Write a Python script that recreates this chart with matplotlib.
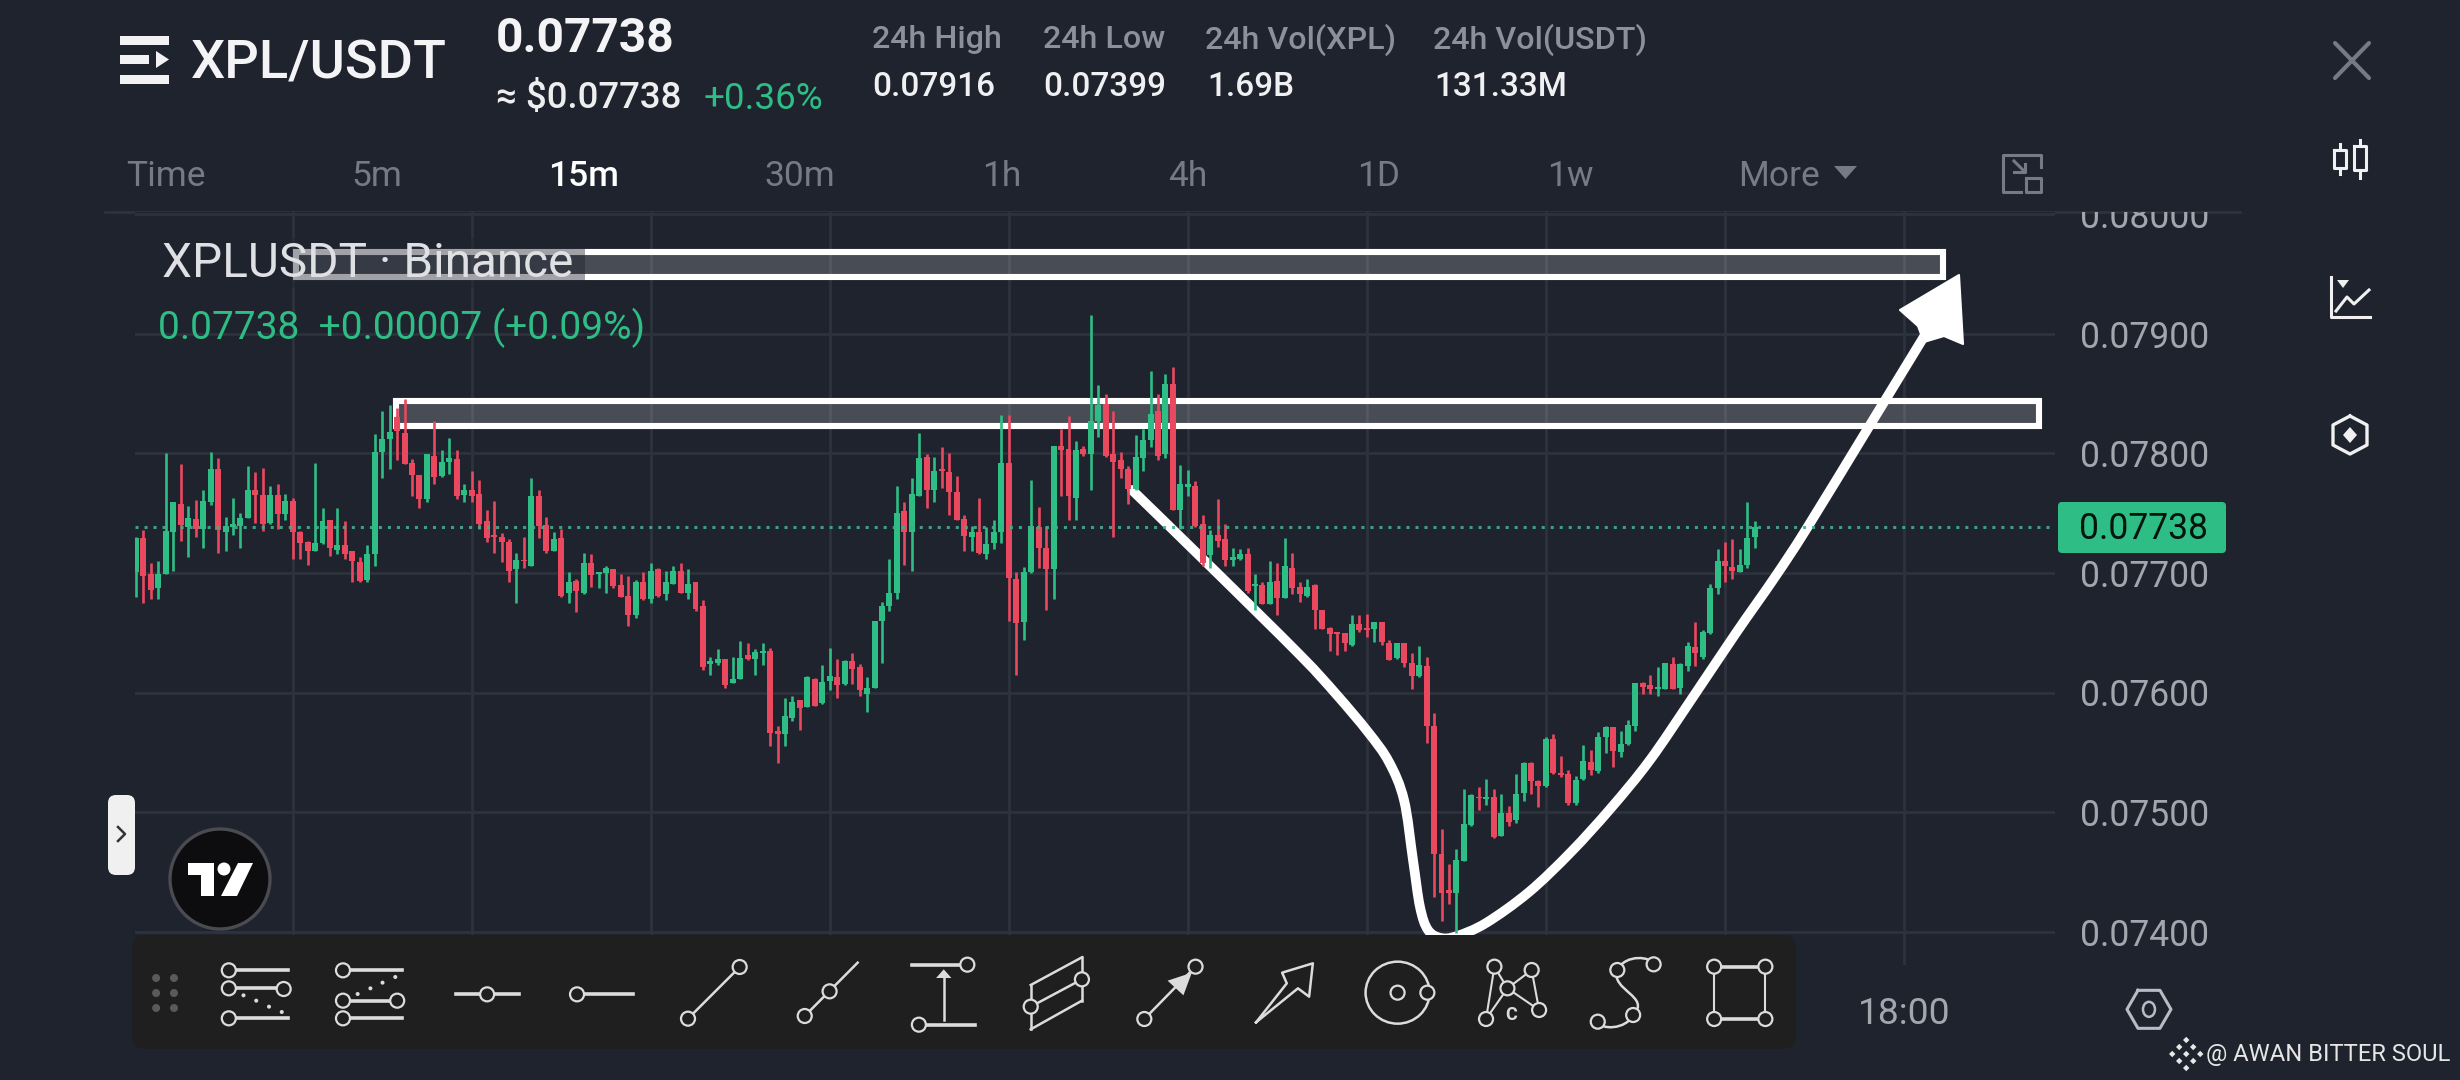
import matplotlib
matplotlib.use("Agg")
import numpy as np
import matplotlib.pyplot as plt
from matplotlib.lines import Line2D
from matplotlib.patches import Rectangle, Circle, Polygon, FancyBboxPatch, Ellipse
from matplotlib.path import Path
from matplotlib.patches import PathPatch
from matplotlib.transforms import Affine2D, Bbox
from matplotlib.ticker import FixedLocator, FixedFormatter

# ---------- data (prices in 1e-5 USDT) ----------
directions = ("grrgggrgrg" "grggggrrgr" "grrrggrgrr" "rggggrrrrg" "rggrgrrrrr"
              "rgrgrrgrgr" "grggrrrgrg" "rggrgrrggr" "ggrggrrggr" "grggrgrrgg"
              "gggrggrgrr" "rrgrgggrrg" "grrgrrgrgg" "rrrrgggrgr" "ggrrgrrggr"
              "grgrgrrgrr" "rrrgrrgrrg" "rrgrrrrggg" "rgrgrggrrg" "rrrggrggrg"
              "ggrrggrggr" "gggrrggg")
highs = [7730,7736,7708,7710,7800,7759,7791,7756,7761,7769,
         7801,7796,7747,7763,7750,7789,7784,7788,7773,7774,
         7766,7763,7735,7727,7792,7754,7744,7754,7743,7718,
         7713,7723,7816,7835,7840,7838,7845,7795,7782,7799,
         7827,7803,7813,7803,7774,7785,7778,7753,7760,7733,
         7728,7717,7730,7779,7769,7747,7734,7737,7701,7695,
         7717,7716,7701,7706,7703,7699,7697,7694,7701,7708,
         7704,7702,7706,7708,7703,7692,7677,7630,7636,7628,
         7630,7643,7641,7636,7641,7637,7572,7595,7597,7594,
         7614,7612,7623,7637,7628,7627,7633,7624,7613,7660,
         7676,7712,7773,7759,7779,7817,7799,7797,7805,7800,
         7781,7748,7739,7763,7738,7744,7832,7832,7701,7705,
         7778,7755,7739,7806,7820,7831,7810,7806,7916,7857,
         7850,7835,7801,7789,7815,7820,7869,7850,7866,7872,
         7790,7786,7777,7748,7736,7762,7741,7721,7720,7721,
         7699,7692,7710,7708,7729,7717,7692,7695,7691,7669,
         7655,7651,7650,7665,7665,7666,7659,7659,7644,7641,
         7641,7633,7639,7630,7583,7486,7457,7469,7519,7515,
         7521,7528,7519,7515,7505,7532,7542,7542,7527,7563,
         7565,7547,7535,7530,7556,7552,7567,7572,7571,7568,
         7577,7608,7609,7615,7621,7625,7630,7625,7642,7659,
         7652,7691,7720,7726,7728,7720,7759,7743]
body_tops = [7729,7729,7699,7699,7735,7759,7758,7746,7745,7760,
             7787,7787,7739,7741,7746,7769,7769,7765,7765,7765,
             7760,7760,7734,7726,7725,7743,7744,7723,7723,7718,
             7709,7716,7801,7812,7818,7830,7817,7792,7782,7799,
             7798,7793,7796,7795,7769,7769,7766,7743,7732,7730,
             7726,7711,7711,7764,7764,7740,7728,7729,7692,7693,
             7708,7708,7701,7704,7703,7690,7681,7692,7692,7702,
             7703,7692,7702,7702,7691,7692,7672,7626,7628,7628,
             7611,7629,7631,7634,7635,7635,7568,7580,7592,7594,
             7613,7611,7609,7614,7613,7626,7626,7621,7604,7660,
             7672,7683,7750,7752,7766,7796,7797,7785,7787,7784,
             7768,7745,7734,7734,7724,7734,7792,7792,7695,7701,
             7739,7738,7721,7806,7806,7804,7803,7804,7827,7840,
             7841,7799,7794,7787,7797,7811,7833,7835,7858,7858,
             7774,7774,7773,7741,7732,7732,7728,7713,7716,7716,
             7691,7690,7692,7693,7706,7704,7688,7688,7690,7669,
             7654,7651,7650,7657,7657,7654,7659,7659,7641,7641,
             7641,7625,7623,7622,7572,7465,7435,7460,7490,7514,
             7513,7513,7513,7499,7499,7515,7541,7541,7526,7561,
             7561,7533,7532,7527,7543,7542,7563,7571,7571,7557,
             7573,7608,7608,7606,7605,7625,7624,7624,7639,7638,
             7651,7687,7710,7710,7705,7707,7729,7738]
body_bottoms = [7701,7697,7686,7687,7699,7734,7740,7738,7737,7737,
                7759,7736,7734,7738,7739,7746,7765,7741,7742,7749,
                7749,7734,7725,7718,7718,7725,7721,7719,7716,7710,
                7693,7694,7716,7801,7812,7819,7791,7782,7762,7762,
                7780,7781,7793,7764,7765,7764,7741,7729,7730,7726,
                7702,7703,7710,7706,7739,7718,7718,7681,7683,7685,
                7683,7698,7699,7700,7689,7680,7665,7665,7678,7678,
                7681,7682,7691,7683,7683,7670,7621,7624,7625,7606,
                7608,7611,7628,7628,7633,7566,7565,7565,7579,7587,
                7588,7589,7591,7610,7606,7607,7620,7602,7599,7604,
                7660,7672,7683,7734,7734,7764,7769,7769,7785,7768,
                7744,7731,7730,7717,7716,7725,7734,7696,7658,7659,
                7701,7721,7703,7703,7803,7764,7763,7799,7799,7827,
                7798,7793,7787,7770,7770,7796,7811,7798,7799,7753,
                7753,7772,7739,7708,7715,7727,7711,7711,7712,7685,
                7689,7674,7674,7679,7679,7687,7682,7681,7669,7653,
                7649,7649,7641,7640,7652,7652,7653,7642,7627,7629,
                7625,7614,7614,7572,7465,7432,7432,7432,7459,7489,
                7512,7511,7479,7480,7492,7493,7516,7526,7522,7522,
                7533,7531,7508,7508,7528,7535,7534,7563,7551,7550,
                7557,7572,7605,7603,7603,7603,7603,7604,7622,7633,
                7630,7650,7687,7706,7702,7701,7707,7730]
lows = [7680,7675,7678,7678,7699,7702,7727,7713,7730,7721,
        7757,7717,7718,7732,7721,7746,7742,7735,7741,7737,
        7744,7712,7712,7707,7718,7724,7714,7716,7712,7692,
        7692,7692,7706,7779,7787,7794,7791,7764,7754,7759,
        7774,7780,7783,7762,7759,7759,7737,7726,7717,7709,
        7692,7675,7704,7706,7729,7717,7718,7680,7675,7667,
        7682,7688,7687,7683,7687,7680,7656,7662,7677,7675,
        7680,7677,7691,7683,7678,7668,7619,7615,7623,7604,
        7608,7611,7627,7615,7623,7555,7541,7555,7576,7569,
        7588,7589,7590,7602,7595,7606,7607,7597,7584,7604,
        7625,7668,7678,7707,7702,7764,7754,7759,7771,7748,
        7744,7718,7718,7716,7712,7720,7725,7660,7615,7644,
        7700,7704,7669,7678,7764,7744,7744,7798,7769,7814,
        7797,7730,7779,7758,7769,7785,7805,7794,7796,7753,
        7737,7764,7738,7706,7704,7722,7706,7706,7711,7683,
        7669,7674,7674,7665,7679,7682,7676,7680,7653,7653,
        7635,7631,7635,7639,7651,7646,7642,7640,7627,7628,
        7621,7603,7613,7558,7429,7409,7423,7399,7459,7488,
        7502,7506,7478,7480,7488,7491,7509,7515,7504,7521,
        7532,7529,7506,7506,7527,7531,7533,7549,7538,7546,
        7556,7568,7599,7599,7597,7603,7603,7599,7618,7622,
        7628,7649,7682,7692,7695,7701,7704,7721]
price_ticks = [0.074, 0.075, 0.076, 0.077, 0.078, 0.079, 0.080]
last_price = 0.07738
time_tick_candles = [21, 45, 69, 93, 117, 141, 165, 189, 213, 237]
time_tick_labels = ["", "", "", "", "", "", "", "", "", "18:00"]
header_stats = ["24h High", "24h Low", "24h Vol(XPL)", "24h Vol(USDT)"]
header_values = ["0.07916", "0.07399", "1.69B", "131.33M"]
intervals = ["Time", "5m", "15m", "30m", "1h", "4h", "1D", "1w", "More"]

# ---------- style ----------
BG = "#1e232e"; GRID = "#2d323d"; GREEN = "#2ebd85"; RED = "#e9485f"
AXTXT = "#a3a6ad"; DIM = "#747a86"; ICON = "#dcdcdc"; BAR = "#1f1f20"
plt.rcParams["font.family"] = ["Roboto", "DejaVu Sans"]

W, H = 2460, 1080
fig = plt.figure(figsize=(W/100, H/100), dpi=100, facecolor=BG)
px = Affine2D().scale(1, -1).translate(0, H)

# chart axes: pixel calibration of the scales
X0, DX = 136.0, 7.46
Y78, DY = 453.3, 119.6
L, R, T_, B_ = 135, 2055, 212, 965
ax = fig.add_axes([L/W, 1-B_/H, (R-L)/W, (B_-T_)/H], facecolor=BG)
ax.set_xlim((L-X0)/DX, (R-X0)/DX)
ax.set_ylim(0.078-(B_-Y78)/DY*0.001, 0.078+(Y78-T_)/DY*0.001)
for s in ax.spines.values():
    s.set_visible(False)
ax.yaxis.tick_right()
ax.yaxis.set_major_locator(FixedLocator(price_ticks))
ax.yaxis.set_major_formatter(FixedFormatter([f"{p:.5f}" for p in price_ticks]))
ax.xaxis.set_major_locator(FixedLocator(time_tick_candles))
ax.xaxis.set_major_formatter(FixedFormatter(time_tick_labels))
ax.tick_params(axis="y", length=0, pad=18, labelsize=25.6, labelcolor=AXTXT)
ax.tick_params(axis="x", length=0, pad=22, labelsize=26.8, labelcolor=AXTXT)
ax.grid(True, color=GRID, lw=2.0, zorder=0)
ax.set_axisbelow(True)
for lab in ax.yaxis.get_ticklabels():
    if lab.get_text() == "0.08000":
        lab.set_clip_on(True)
        lab.set_clip_box(Bbox([[2060, 0], [2240, H-T_]]))

# top border of the chart pane
fig.add_artist(Line2D([105, 2240], [212, 212], transform=px, color=GRID, lw=2.0, zorder=-1))

# user drawings sit under the candles
boxes = [(296, 252, 1942.5, 277), (396, 401, 2039, 426)]
for x0, y0, x1, y1 in boxes:
    ax.add_patch(Rectangle((x0, y0), x1-x0, y1-y0, transform=px, facecolor=(1, 1, 1, 0.19),
                           edgecolor="none", zorder=1.5, clip_on=False))
    ax.add_patch(Rectangle((x0, y0), x1-x0, y1-y0, transform=px, facecolor="none",
                           edgecolor="white", lw=4.4, joinstyle="miter", zorder=1.6, clip_on=False))
ax.add_patch(Rectangle((160, 238), 425, 50, transform=px, facecolor=BG, alpha=0.42,
                       edgecolor="none", zorder=1.7, clip_on=False))

curve_x = [1132, 1210, 1300, 1336, 1368, 1389, 1404, 1413, 1420, 1428, 1441, 1457, 1486, 1529, 1571,
           1611, 1650, 1693, 1736, 1775, 1807, 1870, 1925]
curve_y = [490, 566, 655, 694, 732, 762, 800, 860, 907, 930, 938, 936, 923, 892, 852,
           808, 760, 697, 633, 577, 528, 425, 335]

def smooth_path(xs, ys):
    # Catmull-Rom control points handed to matplotlib's cubic Bezier path
    p = np.c_[xs, ys].astype(float)
    q = np.vstack([p[0], p, p[-1]])
    verts, codes = [tuple(p[0])], [Path.MOVETO]
    for i in range(1, len(q)-2):
        verts += [tuple(q[i]+(q[i+1]-q[i-1])/6), tuple(q[i+1]-(q[i+2]-q[i])/6), tuple(q[i+1])]
        codes += [Path.CURVE4]*3
    return Path(verts, codes)

ax.add_patch(PathPatch(smooth_path(curve_x, curve_y), facecolor="none", edgecolor="white", lw=7.0,
                       transform=px, zorder=1.8, capstyle="round", joinstyle="round", clip_on=False))
ax.add_patch(Polygon([(1959, 275), (1900, 310), (1918, 326), (1924, 342), (1944, 336), (1963, 344)],
                     closed=True, facecolor="white", edgecolor="white", lw=1.5, joinstyle="round",
                     transform=px, zorder=1.9, clip_on=False))

# candles
idx = np.arange(len(highs))
hi, to, bo, lo = [np.array(a)*1e-5 for a in (highs, body_tops, body_bottoms, lows)]
cols = [GREEN if d == "g" else RED for d in directions]
ax.vlines(idx, lo, hi, colors=cols, lw=1.9, zorder=3)
ax.bar(idx, np.maximum(to-bo, 0.00001), bottom=bo, width=0.80, color=cols, linewidth=0, zorder=3.1)
ax.axhline(last_price, color="#3fae8c", lw=2.2, ls=(0, (1.0, 1.95)), zorder=3.5, alpha=0.9)

# ---------- helpers for the app chrome ----------
def text(x, y, s, size, color="white", ha="left", weight="normal", **k):
    return fig.text(x, y, s, transform=px, fontsize=size, color=color, ha=ha, va="center",
                    fontweight=weight, zorder=20, **k)

def line(pts, color=ICON, lw=1.8, zo=20, **k):
    xs, ys = zip(*pts)
    fig.add_artist(Line2D(xs, ys, transform=px, color=color, lw=lw, zorder=zo, **k))

def circ(x, y, r=7, ec=ICON, fc=BAR, lw=1.6, zo=21):
    fig.add_artist(Circle((x, y), r, transform=px, facecolor=fc, edgecolor=ec, lw=lw, zorder=zo))

def poly(pts, fc=ICON, ec="none", lw=1, zo=20, closed=True):
    fig.add_artist(Polygon(pts, closed=closed, transform=px, facecolor=fc, edgecolor=ec, lw=lw, zorder=zo))

def rrect(x0, y0, x1, y1, r, fc, zo=18, ec="none", lw=0):
    fig.add_artist(FancyBboxPatch((x0+r, y0+r), x1-x0-2*r, y1-y0-2*r, boxstyle=f"round,pad={r},rounding_size={r}",
                                  transform=px, facecolor=fc, edgecolor=ec, lw=lw, zorder=zo))

z4 = lambda x, y: (100+x/1.568, 930+y/3)
z5 = lambda x, y: (1000+x/1.074, 930+y/3)

# ---------- header ----------
for y0, y1 in [(36, 45), (75, 84)]:
    poly([(120, y0), (169, y0), (169, y1), (120, y1)], fc="#f2f2f4")
poly([(120, 55), (149, 55), (149, 64), (120, 64)], fc="#f2f2f4")
poly([(156, 51), (169, 59.5), (156, 68)], fc="#f2f2f4")
text(191, 64, "XPL/USDT", 39, color="#f4f4f6", weight="medium")
text(496, 39, "0.07738", 34.5, color="#f4f4f6", weight="bold")
text(496, 99, "≈ $0.07738", 26.4, color="#eeeeee", weight="medium")
text(704, 99, "+0.36%", 26.5, color=GREEN)
for x, a, b, xb in zip([872, 1043, 1205, 1433], header_stats, header_values, [872, 1043, 1207, 1434]):
    text(x, 40, a, 23.2, color="#8b909a", weight="medium")
    text(xb, 87, b, 24, color="#f0f0f2", weight="medium")
for xc, s in zip([165.5, 376.5, 584, 800, 1002, 1188, 1379, 1570, 1779], intervals):
    on = s == "15m"
    text(xc, 177, s, 25.5, color="white" if on else DIM, ha="center", weight="medium" if on else "normal")
poly([(1834, 166), (1857, 166), (1845.5, 179)], fc=DIM)
# expand icon
line([(2003, 175), (2003, 155), (2041, 155), (2041, 167)], color=DIM, lw=2.2)
line([(2003, 175), (2003, 192), (2021, 192)], color=DIM, lw=2.2)
line([(2014, 161), (2025, 172)], color=DIM, lw=2.2)
line([(2014, 172), (2025, 172), (2025, 164)], color=DIM, lw=2.2)
line([(2026, 178), (2041, 178), (2041, 192), (2026, 192), (2026, 178)], color=DIM, lw=2.2)

# legend text
text(162, 264, "XPLUSDT · Binance", 34.4, color="#dfe0e3")
text(158, 328, "0.07738  +0.00007 (+0.09%)", 28, color=GREEN)

# price tag
rrect(2058, 502, 2226, 553, 4, GREEN)
text(2079, 529, "0.07738", 25.6, color="#06140f")

# side icons
line([(2335, 43), (2369, 78)], color=DIM, lw=3, solid_capstyle="round")
line([(2369, 43), (2335, 78)], color=DIM, lw=3, solid_capstyle="round")
for cx, y0, y1, w0, w1 in [(2340, 144, 174, 150, 168), (2360, 140, 178, 146, 170)]:
    line([(cx, y0), (cx, w0)], color="#f0f0f0", lw=2.2)
    line([(cx, w1), (cx, y1)], color="#f0f0f0", lw=2.2)
    line([(cx-6, w0), (cx+6, w0), (cx+6, w1), (cx-6, w1), (cx-6, w0)], color="#f0f0f0", lw=2.2)
line([(2331, 277), (2331, 317), (2370, 317)], color="#f0f0f0", lw=2.2)
line([(2336, 311), (2347, 297), (2354, 304), (2369, 290)], color="#f0f0f0", lw=2.2)
poly([(2337, 280), (2349, 280), (2343, 288)], fc="#f0f0f0")
hx = [(2350, 416), (2367, 425), (2367, 445), (2350, 454), (2333, 445), (2333, 425), (2350, 416)]
line(hx, color="#f0f0f0", lw=2.4)
poly([(2350, 427), (2357, 435), (2350, 443), (2343, 435)], fc="#f0f0f0")

# left handle and TradingView badge
rrect(108, 795, 135, 875, 8, "#f0f0f0")
line([(118, 827), (125, 834), (118, 841)], color="#333333", lw=1.8)
fig.add_artist(Circle((220, 879), 50, transform=px, facecolor="#0d0d0f", edgecolor="#4a4b50", lw=2.4, zorder=19))
poly([(188, 863), (214, 863), (214, 896), (201, 896), (201, 875), (188, 875)], fc="white")
fig.add_artist(Circle((224, 869), 6.5, transform=px, facecolor="white", edgecolor="none", zorder=20))
poly([(238, 863), (253, 863), (237, 896), (221, 896)], fc="white")

# ---------- toolbar ----------
rrect(132, 935, 1796, 1049, 14, BAR, zo=15)
for a, b in [(88, 144), (116, 144), (88, 189), (116, 189), (88, 234), (116, 234)]:
    x, y = z4(a, b)
    fig.add_artist(Circle((x, y), 4, transform=px, facecolor="#5a5a5c", edgecolor="none", zorder=20))

def seg(f, a, b, **k):
    line([f(*a), f(*b)], **k)

def dots(f, pts):
    for p in pts:
        c = f(*p)
        fig.add_artist(Circle(c, 2, transform=px, facecolor=ICON, edgecolor="none", zorder=20))

def cs(f, pts, r=7):
    for p in pts:
        circ(*f(*p), r=r)

TH = 2.6
# icon 1
seg(z4, (202, 121), (295, 121), lw=TH); seg(z4, (202, 175), (288, 175), lw=TH); seg(z4, (202, 265), (295, 265), lw=TH)
dots(z4, [(225, 196), (245, 212), (265, 230), (285, 246)]); cs(z4, [(202, 121), (202, 175), (288, 177), (202, 265)])
# icon 2
seg(z4, (381, 121), (474, 121), lw=TH); seg(z4, (381, 212), (466, 212), lw=TH); seg(z4, (381, 265), (474, 265), lw=TH)
dots(z4, [(404, 192), (424, 175), (443, 158), (463, 141)]); cs(z4, [(381, 121), (381, 212), (466, 212), (381, 265)])
# icon 3, 4
seg(z4, (558, 193), (657, 193), lw=TH); cs(z4, [(607, 193)])
seg(z4, (748, 193), (836, 193), lw=TH); cs(z4, [(748, 193)])
# icon 5, 6
seg(z4, (1003, 111), (922, 266)); cs(z4, [(1003, 111), (922, 266)])
seg(z4, (1105, 258), (1188, 98)); cs(z4, [(1144, 184), (1105, 258)])
# icon 7
seg(z4, (1273, 104), (1360, 104), lw=TH); seg(z4, (1284, 284), (1372, 284), lw=TH)
seg(z4, (1323, 270), (1323, 140)); poly([z4(1323, 118), z4(1335, 144), z4(1311, 144)])
cs(z4, [(1360, 104), (1284, 284)])
# icon 8
for a, b in [((33, 165), (88, 82)), ((33, 298), (88, 212)), ((33, 165), (33, 298)), ((88, 82), (88, 212)), ((33, 230), (88, 148))]:
    seg(z5, a, b)
cs(z5, [(33, 230), (88, 148)])
# icon 9
seg(z5, (155, 267), (210, 110)); poly([z5(206, 128), z5(180, 152), z5(197, 196)]); cs(z5, [(210, 110), (155, 267)])
# icon 10
line([z5(*p) for p in [(275, 277), (308, 160), (303, 128), (336, 100), (332, 200), (320, 175), (275, 277)]], lw=1.8)
# icon 11
fig.add_artist(Ellipse(z5(427, 188), 64, 62, transform=px, facecolor=BAR, edgecolor=ICON, lw=1.8, zorder=20))
cs(z5, [(427, 188), (459, 188)])
# icon 12
for a, b in [((531, 110), (545, 175)), ((571, 120), (545, 175)), ((545, 175), (579, 240)), ((545, 175), (522, 267)),
             ((531, 110), (522, 267)), ((571, 120), (579, 240))]:
    seg(z5, a, b, lw=1.5)
cs(z5, [(531, 110), (571, 120), (545, 175), (579, 240), (522, 267)])
text(*z5(549, 255), "C", 13, color=ICON, ha="center", weight="bold")
# icon 13
def bez(f, pts, lw=1.8):
    verts = [f(*p) for p in pts]
    codes = [Path.MOVETO] + [Path.CURVE4]*(len(verts)-1)
    fig.add_artist(PathPatch(Path(verts, codes), transform=px, facecolor="none", edgecolor=ICON, lw=lw, zorder=20))
bez(z5, [(663, 120), (672, 70), (700, 80), (702, 103)])
bez(z5, [(663, 120), (655, 180), (700, 200), (680, 255)])
bez(z5, [(680, 255), (672, 300), (645, 300), (642, 275)])
cs(z5, [(663, 120), (702, 103), (680, 255), (642, 275)])
# icon 14
seg(z5, (767, 110), (822, 110), lw=TH); seg(z5, (767, 267), (822, 267), lw=TH)
seg(z5, (767, 110), (767, 267), lw=1.5); seg(z5, (822, 110), (822, 267), lw=1.5)
cs(z5, [(767, 110), (822, 110), (767, 267), (822, 267)])

# bottom-right hexagon settings icon
cx, cy = z5(1234, 238)
line([(cx-11, cy-19), (cx+11, cy-19), (cx+22, cy), (cx+11, cy+19), (cx-11, cy+19), (cx-22, cy), (cx-11, cy-19)],
     color="#b9bcc2", lw=2.2)
fig.add_artist(Ellipse((cx, cy), 12, 15, transform=px, facecolor=BG, edgecolor="#b9bcc2", lw=1.8, zorder=20))

# watermark
wx, wy = z5(1274, 372)
for dx, dy in [(0, -14), (-7, -7), (7, -7), (-14, 0), (14, 0), (-7, 7), (7, 7), (0, 14), (0, 0)]:
    s = 3.2
    poly([(wx+dx, wy+dy-s), (wx+dx+s, wy+dy), (wx+dx, wy+dy+s), (wx+dx-s, wy+dy)], fc="#e8e8e8")
text(2206, 1054, "@ AWAN BITTER SOUL", 17.1, color="#e6e6e6")

fig.savefig("out.png", dpi=100, facecolor=BG)
